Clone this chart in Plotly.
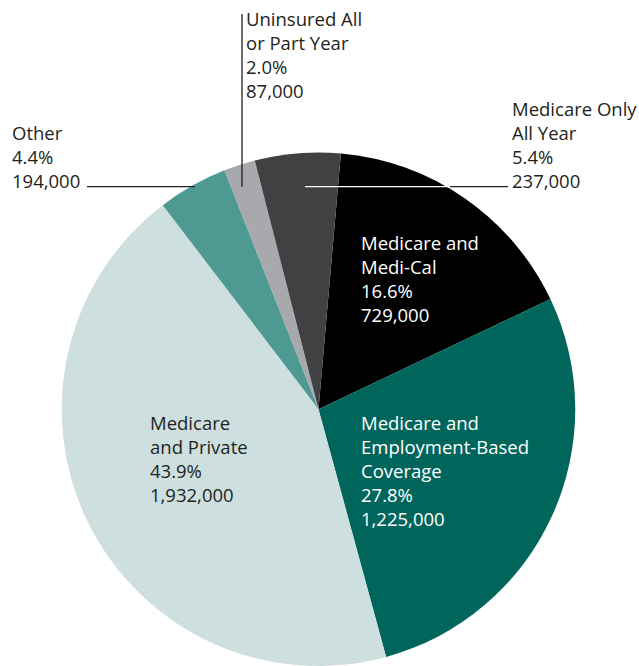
import plotly.graph_objects as go

W, H = 639, 666

categories = ["Medicare and Medi-Cal", "Medicare and Employment-Based Coverage",
              "Medicare and Private", "Other", "Uninsured All or Part Year",
              "Medicare Only All Year"]
counts = [729000, 1225000, 1932000, 194000, 87000, 237000]
percent_labels = ["16.6%", "27.8%", "43.9%", "4.4%", "2.0%", "5.4%"]
count_labels = ["729,000", "1,225,000", "1,932,000", "194,000", "87,000", "237,000"]
label_lines = [["Medicare and", "Medi-Cal"],
               ["Medicare and", "Employment-Based", "Coverage"],
               ["Medicare", "and Private"],
               ["Other"],
               ["Uninsured All", "or Part Year"],
               ["Medicare Only", "All Year"]]
colors = ["#000000", "#00665c", "#cde0df", "#4e9a92", "#a7a9ac", "#414042"]
text_colors = ["white", "white", "#231f20", "#231f20", "#231f20", "#231f20"]

# label placement (pixel coords: left x, vertical centre y)
label_pos = [(359, 279), (359, 470), (148, 458), (10, 156), (244, 55), (510, 144)]


def px(x):
    return x / W


def py(y):
    return 1 - y / H


fig = go.Figure(go.Pie(
    labels=categories, values=counts, sort=False, direction="clockwise",
    rotation=5, marker=dict(colors=colors, line=dict(width=0)),
    textinfo="none", hoverinfo="label+percent+value", showlegend=False,
    domain=dict(x=[px(60), px(577)], y=[0, py(152.5)]),
))

for lines, pct, cnt, (x, y), tc in zip(label_lines, percent_labels, count_labels,
                                         label_pos, text_colors):
    txt = "<br>".join(lines + [pct, cnt])
    fig.add_annotation(x=px(x), y=py(y), xref="paper", yref="paper", text=txt,
                       showarrow=False, xanchor="left", yanchor="middle",
                       align="left", font=dict(size=18.5, color=tc,
                                               family="Open Sans"))

# leader lines
leaders = [
    (87, 186.7, 195, 186.7, "#231f20"),
    (242, 14, 242, 186.7, "#231f20"),
    (305, 186.7, 450, 186.7, "white"),
    (450, 186.7, 508, 186.7, "#231f20"),
]
for x0, y0, x1, y1, c in leaders:
    fig.add_shape(type="line", xref="paper", yref="paper",
                  x0=px(x0), y0=py(y0), x1=px(x1), y1=py(y1),
                  line=dict(color=c, width=1.3))

fig.update_layout(width=W, height=H, margin=dict(l=0, r=0, t=0, b=0),
                  paper_bgcolor="white", plot_bgcolor="white",
                  font=dict(family="Open Sans"))

fig.write_html("out.html")
